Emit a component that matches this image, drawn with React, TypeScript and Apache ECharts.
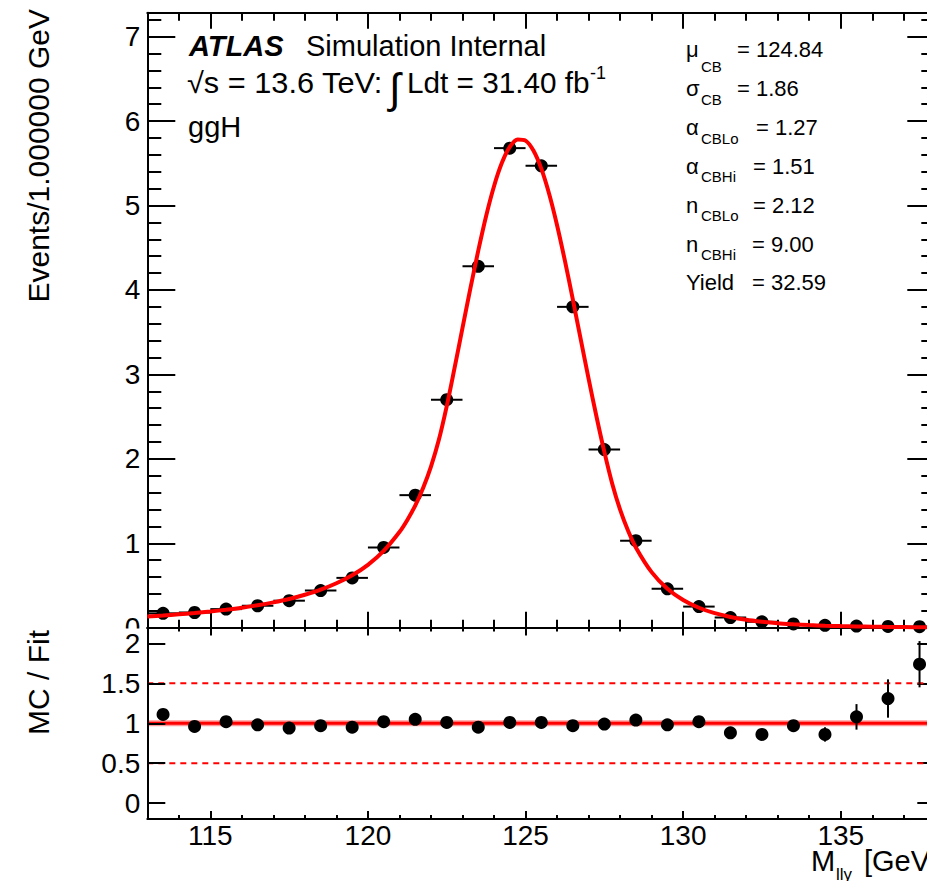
import React, { useEffect, useRef } from "react";
import * as echarts from "echarts";

// ---------------- data ----------------
const binCenters = [
  113.5, 114.5, 115.5, 116.5, 117.5, 118.5, 119.5, 120.5, 121.5, 122.5, 123.5, 124.5, 125.5,
  126.5, 127.5, 128.5, 129.5, 130.5, 131.5, 132.5, 133.5, 134.5, 135.5, 136.5, 137.5,
];
const mcYields = [
  0.17, 0.18, 0.22, 0.26, 0.32, 0.44, 0.59, 0.95, 1.57, 2.7, 4.28, 5.68, 5.47,
  3.8, 2.11, 1.03, 0.46, 0.25, 0.12, 0.07, 0.045, 0.028, 0.02, 0.015, 0.012,
];
const ratioValues = [
  1.11, 0.96, 1.02, 0.98, 0.94, 0.97, 0.95, 1.02, 1.05, 1.01, 0.95, 1.01, 1.01,
  0.97, 0.99, 1.04, 0.98, 1.02, 0.88, 0.86, 0.97, 0.86, 1.08, 1.31, 1.74,
];
const ratioErrors = [
  0.03, 0.03, 0.03, 0.03, 0.03, 0.03, 0.03, 0.02, 0.02, 0.02, 0.01, 0.01, 0.01,
  0.01, 0.02, 0.02, 0.03, 0.03, 0.04, 0.05, 0.06, 0.09, 0.16, 0.24, 0.29,
];
const fitMass = [
  113, 113.5, 114, 114.5, 115, 115.5, 116, 116.5, 117, 117.5, 118, 118.5, 119, 119.5, 120,
  120.5, 121, 121.25, 121.5, 121.75, 122, 122.25, 122.5, 122.75, 123, 123.25, 123.5, 123.75,
  124, 124.25, 124.5, 124.75, 125, 125.25, 125.5, 125.75, 126, 126.25, 126.5, 126.75, 127,
  127.25, 127.5, 127.75, 128, 128.25, 128.5, 129, 129.5, 130, 130.5, 131, 131.5, 132, 132.5,
  133, 133.5, 134, 134.5, 135, 135.5, 136, 136.5, 137, 137.5, 138,
];
const fitValues = [
  0.133, 0.145, 0.159, 0.174, 0.192, 0.213, 0.237, 0.266, 0.3, 0.34, 0.39, 0.45, 0.526, 0.621, 0.745,
  0.91, 1.133, 1.276, 1.447, 1.655, 1.909, 2.225, 2.624, 3.08, 3.55, 4.018, 4.466, 4.877,
  5.229, 5.506, 5.694, 5.783, 5.769, 5.651, 5.437, 5.137, 4.767, 4.344, 3.888, 3.417, 2.95,
  2.501, 2.082, 1.706, 1.398, 1.151, 0.951, 0.658, 0.461, 0.328, 0.236, 0.172, 0.127, 0.094, 0.071,
  0.053, 0.041, 0.031, 0.024, 0.019, 0.015, 0.012, 0.009, 0.0075, 0.006, 0.005,
];
const mainYTicks = [0, 1, 2, 3, 4, 5, 6, 7];
const mainYMinorTicks = [
  0.2, 0.4, 0.6, 0.8, 1.2, 1.4, 1.6, 1.8, 2.2, 2.4, 2.6, 2.8, 3.2, 3.4, 3.6, 3.8,
  4.2, 4.4, 4.6, 4.8, 5.2, 5.4, 5.6, 5.8, 6.2, 6.4, 6.6, 6.8, 7.2,
];
const ratioYTicks = [0, 0.5, 1, 1.5, 2];
const xMajorTicks = [115, 120, 125, 130, 135];
const xMinorTicks = [
  114, 116, 117, 118, 119, 121, 122, 123, 124, 126, 127, 128, 129, 131, 132, 133, 134, 136, 137,
];
const ratioReference = 1;
const ratioBands = [0.5, 1.5];

const headerLine1Bold = "ATLAS";
const headerLine1 = "Simulation Internal";
const headerLine2a = "√s = 13.6 TeV:";
const headerIntegral = "∫";
const headerLine2b = "Ldt = 31.40 fb";
const headerLine2sup = "-1";
const processName = "ggH";
const paramSymbols = ["μ", "σ", "α", "α", "n", "n"];
const paramSubs = ["CB", "CB", "CBLo", "CBHi", "CBLo", "CBHi"];
const paramValues = ["124.84", "1.86", "1.27", "1.51", "2.12", "9.00"];
const yieldLabel = "Yield";
const yieldValue = "32.59";
const yTitleMain = "Events/1.000000 GeV";
const yTitleRatio = "MC / Fit";

// ---------------- layout ----------------
const X_MIN = 113;
const X_MAX = 138;
const Y_MAX_MAIN = 7.284;
const Y_MIN_RATIO = -0.2;
const Y_MAX_RATIO = 2.2;
const BIN_HALF = 0.5;
const FONT = "'Liberation Sans', Arial, Helvetica, sans-serif";
const GRID_LEFT = 147.3;
const GRID_WIDTH = 788;

const paramBaselines = [57, 96, 135, 174, 213, 252];
const paramSubDrop = [14.5, 9, 9, 8, 8, 8];
const paramEqX = [737, 737, 756, 753, 753, 752];

function txt(text: string, x: number, baseline: number, size: number, extra: any = {}, scaleX = 1) {
  return {
    type: "text",
    x,
    y: baseline - 0.35 * size,
    scaleX,
    z: 10,
    style: {
      text,
      fontSize: size,
      fontFamily: FONT,
      fill: "#000",
      align: "left",
      verticalAlign: "middle",
      ...extra,
    },
  };
}

function xAxisDef(gridIndex: number, position: string, ticks: number[], len: number, showLine: boolean, showLabel: boolean) {
  return {
    type: "value",
    gridIndex,
    position,
    min: X_MIN,
    max: X_MAX,
    axisLine: { show: showLine, onZero: false, lineStyle: { color: "#000", width: 2 } },
    axisTick: { show: true, inside: true, length: len, customValues: ticks, lineStyle: { color: "#000", width: 2 } },
    axisLabel: showLabel
      ? { show: true, customValues: ticks, margin: 2, fontSize: 28, fontFamily: FONT, color: "#000" }
      : { show: false },
    splitLine: { show: false },
  };
}

function yAxisDef(
  gridIndex: number,
  position: string,
  min: number,
  max: number,
  ticks: number[],
  len: number,
  showLine: boolean,
  showLabel: boolean,
  z = 0
) {
  return {
    type: "value",
    gridIndex,
    position,
    min,
    max,
    z,
    axisLine: { show: showLine, onZero: false, lineStyle: { color: "#000", width: 2 } },
    axisTick: { show: true, inside: true, length: len, customValues: ticks, lineStyle: { color: "#000", width: 2 } },
    axisLabel: showLabel
      ? { show: true, customValues: ticks, margin: 7, fontSize: 28, fontFamily: FONT, color: "#000" }
      : { show: false },
    splitLine: { show: false },
  };
}

export default function App() {
  const ref = useRef<HTMLDivElement>(null);

  useEffect(() => {
    if (!ref.current) return;
    const chart = echarts.init(ref.current, null, { renderer: "svg" });

    const points = binCenters.map((x, i) => [x, mcYields[i]]);
    const ratioPts = binCenters.map((x, i) => [x, ratioValues[i], ratioErrors[i]]);
    const curve = fitMass.map((x, i) => [x, fitValues[i]]);

    const graphics: any[] = [];
    // cover lower half of the top panel's "0" label (hidden by the ratio pad)
    graphics.push({
      type: "rect",
      z: 5,
      shape: { x: 90, y: 628.5, width: 55, height: 14 },
      style: { fill: "#fff" },
    });
    graphics.push(txt(headerLine1Bold, 189, 56, 29, { fontWeight: "bold", fontStyle: "italic" }));
    graphics.push(txt(headerLine1, 306, 56, 29));
    graphics.push(txt(headerLine2a, 187, 93, 29, {}, 1.06));
    graphics.push(txt(headerIntegral, 389, 103, 42));
    graphics.push(txt(headerLine2b, 407, 93, 29, {}, 1.025));
    graphics.push(txt(headerLine2sup, 590, 79, 18));
    graphics.push(txt(processName, 188, 137.5, 29));

    paramSymbols.forEach((s, i) => {
      const b = paramBaselines[i];
      graphics.push(txt(s, 686, b, 22));
      graphics.push(txt(paramSubs[i], 701, b + paramSubDrop[i], 15));
      graphics.push(txt("= " + paramValues[i], paramEqX[i], b, 22));
    });
    graphics.push(txt(yieldLabel, 686, 290, 22));
    graphics.push(txt("= " + yieldValue, 752, 290, 22));

    // axis titles
    graphics.push({
      type: "text",
      x: 38,
      y: 9,
      rotation: Math.PI / 2,
      z: 10,
      style: { text: yTitleMain, fontSize: 30, fontFamily: FONT, fill: "#000", align: "right", verticalAlign: "middle" },
    });
    graphics.push({
      type: "text",
      x: 38,
      y: 630,
      rotation: Math.PI / 2,
      z: 10,
      style: { text: yTitleRatio, fontSize: 30, fontFamily: FONT, fill: "#000", align: "right", verticalAlign: "middle" },
    });
    graphics.push(txt("M", 811, 871.5, 29));
    graphics.push(txt("llγ", 836, 880, 17));
    graphics.push(txt("[GeV]", 864, 871.5, 29));

    const option: any = {
      animation: false,
      backgroundColor: "#fff",
      grid: [
        { left: GRID_LEFT, top: 12.7, width: GRID_WIDTH, height: 615 },
        { left: GRID_LEFT, top: 627.5, width: GRID_WIDTH, height: 191.5 },
      ],
      xAxis: [
        xAxisDef(0, "bottom", xMajorTicks, 16, true, false),
        xAxisDef(0, "bottom", xMinorTicks, 8, false, false),
        xAxisDef(0, "top", xMajorTicks, 16, true, false),
        xAxisDef(0, "top", xMinorTicks, 8, false, false),
        xAxisDef(1, "bottom", xMajorTicks, 8, true, true),
        xAxisDef(1, "bottom", xMinorTicks, 4, false, false),
        xAxisDef(1, "top", xMajorTicks, 8, true, false),
        xAxisDef(1, "top", xMinorTicks, 4, false, false),
      ],
      yAxis: [
        yAxisDef(0, "left", 0, Y_MAX_MAIN, mainYTicks, 28, true, true),
        yAxisDef(0, "left", 0, Y_MAX_MAIN, mainYMinorTicks, 14, false, false),
        yAxisDef(0, "right", 0, Y_MAX_MAIN, mainYTicks, 28, true, false),
        yAxisDef(0, "right", 0, Y_MAX_MAIN, mainYMinorTicks, 14, false, false),
        yAxisDef(1, "left", Y_MIN_RATIO, Y_MAX_RATIO, ratioYTicks, 18, true, true, 10),
        yAxisDef(1, "right", Y_MIN_RATIO, Y_MAX_RATIO, ratioYTicks, 18, true, false),
      ],
      graphic: { elements: graphics },
      series: [
        {
          type: "custom",
          xAxisIndex: 0,
          yAxisIndex: 0,
          z: 2,
          data: points,
          encode: { x: 0, y: 1 },
          renderItem: (_p: any, api: any) => {
            const x = api.value(0);
            const y = api.value(1);
            const a = api.coord([x - BIN_HALF, y]);
            const b = api.coord([x + BIN_HALF, y]);
            return {
              type: "line",
              shape: { x1: a[0], y1: a[1], x2: b[0], y2: b[1] },
              style: { stroke: "#000", lineWidth: 2 },
            };
          },
        },
        {
          type: "scatter",
          xAxisIndex: 0,
          yAxisIndex: 0,
          z: 3,
          data: points,
          symbol: "circle",
          symbolSize: 13,
          itemStyle: { color: "#000", opacity: 1 },
        },
        {
          type: "line",
          xAxisIndex: 0,
          yAxisIndex: 0,
          z: 4,
          data: curve,
          smooth: 0.3,
          showSymbol: false,
          symbol: "none",
          lineStyle: { color: "#ff0000", width: 4 },
        },
        {
          type: "line",
          xAxisIndex: 4,
          yAxisIndex: 4,
          z: 2,
          data: [
            [X_MIN, ratioReference],
            [X_MAX, ratioReference],
          ],
          symbol: "none",
          lineStyle: { color: "#ff9a9a", width: 6 },
        },
        {
          type: "line",
          xAxisIndex: 4,
          yAxisIndex: 4,
          z: 2,
          data: [
            [X_MIN, ratioReference],
            [X_MAX, ratioReference],
          ],
          symbol: "none",
          lineStyle: { color: "#ff0000", width: 3 },
        },
        ...ratioBands.map((v) => ({
          type: "line",
          xAxisIndex: 4,
          yAxisIndex: 4,
          z: 2,
          data: [
            [X_MIN, v],
            [X_MAX, v],
          ],
          symbol: "none",
          lineStyle: { color: "#ff0000", width: 2, type: [6, 5] },
        })),
        {
          type: "custom",
          xAxisIndex: 4,
          yAxisIndex: 4,
          z: 3,
          data: ratioPts,
          encode: { x: 0, y: 1 },
          renderItem: (_p: any, api: any) => {
            const x = api.value(0);
            const y = api.value(1);
            const e = api.value(2);
            const a = api.coord([x, y - e]);
            const b = api.coord([x, y + e]);
            return {
              type: "line",
              shape: { x1: a[0], y1: a[1], x2: b[0], y2: b[1] },
              style: { stroke: "#000", lineWidth: 2 },
            };
          },
        },
        {
          type: "scatter",
          xAxisIndex: 4,
          yAxisIndex: 4,
          z: 4,
          data: ratioPts.map((p) => [p[0], p[1]]),
          symbol: "circle",
          symbolSize: 13,
          itemStyle: { color: "#000", opacity: 1 },
        },
      ],
    };

    chart.setOption(option);
    return () => chart.dispose();
  }, []);

  return (
    <div
      style={{
        position: "fixed",
        left: 0,
        top: 0,
        width: 927,
        height: 881,
        overflow: "hidden",
        background: "#fff",
      }}
    >
      <div ref={ref} style={{ width: 945, height: 881 }} />
    </div>
  );
}
